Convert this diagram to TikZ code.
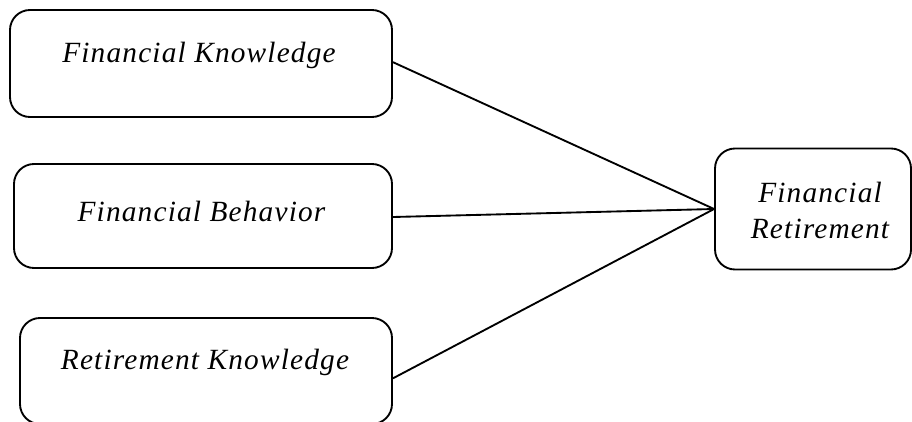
\documentclass[tikz,border=0pt]{standalone}
\usepackage{fontspec}
\setmainfont{Liberation Serif}
\begin{document}
\begin{tikzpicture}[x=0.75pt,y=-0.75pt,
  box/.style={draw,line width=1.4pt,rounded corners=15pt,inner sep=0pt},
  lbl/.style={font=\fontsize{22}{27}\selectfont\itshape\addfontfeatures{LetterSpace=4},inner sep=0pt,align=center,anchor=base},
  link/.style={line width=1.4pt}]
\useasboundingbox (0,0) rectangle (912,421);
\clip (0,0) rectangle (912,421);
\node[box,minimum width=382*0.75pt,minimum height=107*0.75pt] (b1) at (201,63.5) {};
\node[box,minimum width=378*0.75pt,minimum height=104*0.75pt] (b2) at (203,216) {};
\node[box,minimum width=372*0.75pt,minimum height=106*0.75pt] (b3) at (206,371) {};
\node[box,minimum width=196*0.75pt,minimum height=121*0.75pt] (b4) at (813,209) {};
\node[lbl] (t1) at (199,62) {Financial Knowledge};
\node[lbl] (t2) at (201.5,221) {Financial Behavior};
\node[lbl] (t3) at (205,369) {Retirement Knowledge};
\node[lbl] (t4) at (820,238) {Financial\\Retirement};
\draw[link] ([yshift=1pt]b1.east) -- (b4.west);
\draw[link] ([yshift=-0.75pt]b2.east) -- (b4.west);
\draw[link] ([yshift=-5.5pt]b3.east) -- (b4.west);
\end{tikzpicture}
\end{document}
